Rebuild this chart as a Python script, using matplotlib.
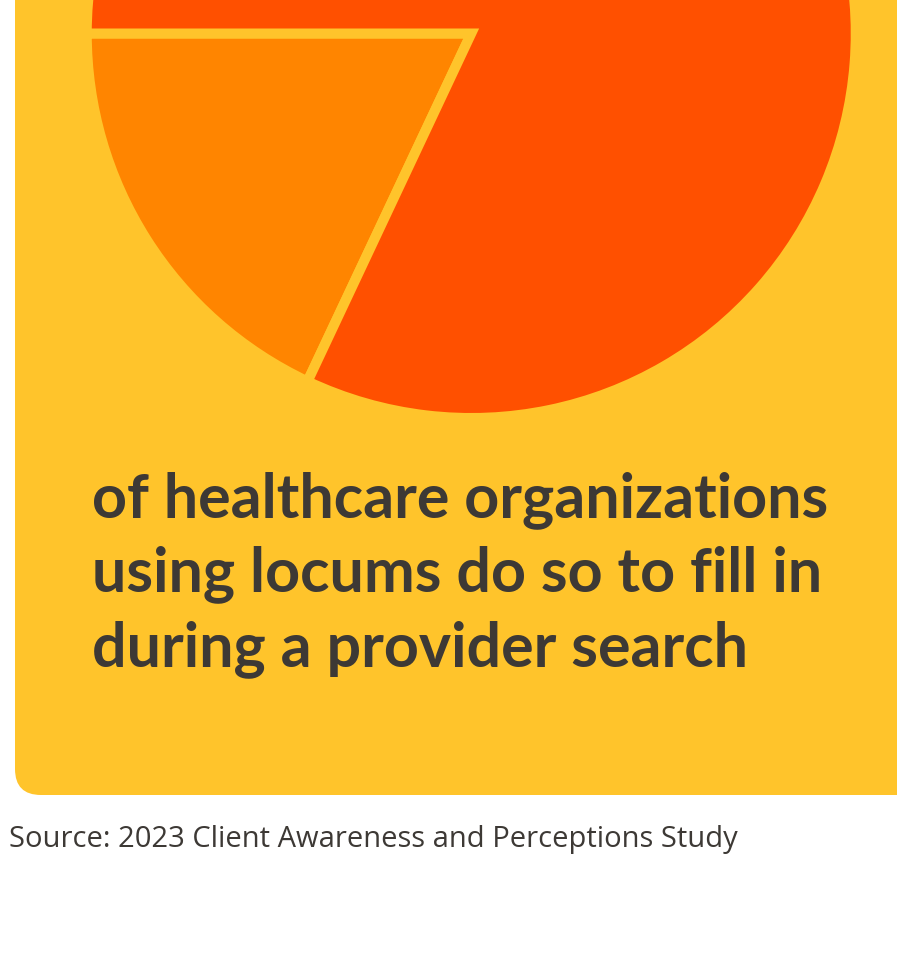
import matplotlib.pyplot as plt
from matplotlib.patches import FancyBboxPatch

# share of organizations using locums to fill in during a provider search
labels = ["Fill in during search", "Other"]
shares = [18, 82]
slice_colors = ["#FF8500", "#FF5000"]

caption_lines = [
    "of healthcare organizations",
    "using locums do so to fill in",
    "during a provider search",
]
source = "Source: 2023 Client Awareness and Perceptions Study"

W, H = 897, 959
card = "#FFC42B"
ink = "#3D3935"

fig = plt.figure(figsize=(W / 100, H / 100), dpi=100)
fig.patch.set_facecolor("white")

# background axes in pixel coordinates (y down)
bg = fig.add_axes([0, 0, 1, 1])
bg.set_xlim(0, W)
bg.set_ylim(H, 0)
bg.axis("off")

bg.add_patch(FancyBboxPatch((15, -60), 950, 855,
                            boxstyle="round,pad=0,rounding_size=26",
                            facecolor=card, edgecolor="none"))

# pie, centre near the top of the card
cx, cy, r = 471.25, 33.5, 379.5
gap = 10
rb = r + gap / 2
pie_ax = fig.add_axes([(cx - rb) / W, (H - cy - rb) / H, 2 * rb / W, 2 * rb / H])
pie_ax.pie(shares, colors=slice_colors, startangle=180, counterclock=True,
           radius=1, wedgeprops=dict(edgecolor=card, linewidth=gap * 0.72))
pie_ax.set_xlim(-1, 1)
pie_ax.set_ylim(-1, 1)
pie_ax.axis("off")


def fit_width(t, target):
    # shrink/grow the font so the text spans `target` pixels
    r = fig.canvas.get_renderer()
    w = t.get_window_extent(r).width
    t.set_fontsize(t.get_fontsize() * target / w)


texts = []
for i, line in enumerate(caption_lines):
    texts.append(bg.text(92, 517 + i * 74.5, line, fontsize=44, fontfamily="Lato",
                         fontweight="bold", color=ink, va="baseline", ha="left"))
fit_width(texts[0], 736)
for t in texts[1:]:
    t.set_fontsize(texts[0].get_fontsize())

src = bg.text(9, 847, source, fontsize=19, fontfamily="Open Sans", color=ink,
              va="baseline", ha="left")
fit_width(src, 729)

fig.savefig("out.png", dpi=100, facecolor="white")
